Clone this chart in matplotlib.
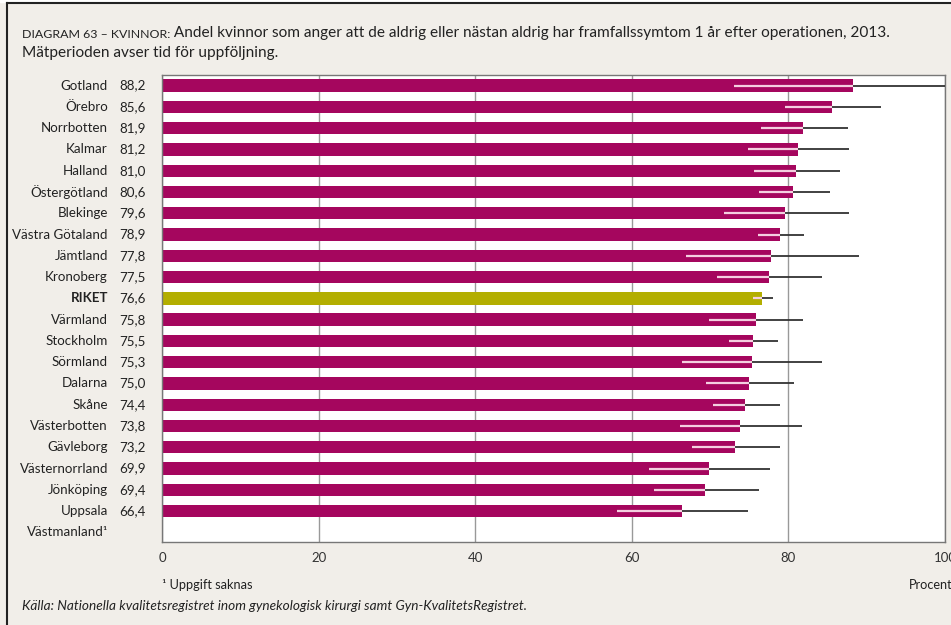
import numpy as np
import matplotlib.pyplot as plt
from matplotlib.patches import Rectangle
from matplotlib.lines import Line2D

regions = ["Gotland", "Örebro", "Norrbotten", "Kalmar", "Halland", "Östergötland",
           "Blekinge", "Västra Götaland", "Jämtland", "Kronoberg", "RIKET",
           "Värmland", "Stockholm", "Sörmland", "Dalarna", "Skåne", "Västerbotten",
           "Gävleborg", "Västernorrland", "Jönköping", "Uppsala", "Västmanland¹"]
values = [88.2, 85.6, 81.9, 81.2, 81.0, 80.6, 79.6, 78.9, 77.8, 77.5, 76.6,
          75.8, 75.5, 75.3, 75.0, 74.4, 73.8, 73.2, 69.9, 69.4, 66.4, None]
ci_low = [73.1, 79.6, 76.5, 74.8, 75.6, 76.2, 71.8, 76.1, 66.9, 70.9, 75.5,
          69.9, 72.4, 66.4, 69.5, 70.4, 66.2, 67.7, 62.2, 62.8, 58.1, None]
ci_high = [100.0, 91.8, 87.6, 87.7, 86.6, 85.3, 87.7, 82.0, 89.0, 84.3, 78.0,
           81.9, 78.7, 84.3, 80.7, 78.9, 81.7, 78.9, 77.6, 76.3, 74.8, None]
xticks = [0, 20, 40, 60, 80, 100]

BG = "#f1eee9"
MAGENTA = "#a5065e"
OLIVE = "#b3ae00"

plt.rcParams['font.family'] = ["Lato", "DejaVu Sans"]

fig = plt.figure(figsize=(9.51, 6.25), dpi=100)
fig.patch.set_facecolor(BG)
ax = fig.add_axes([162 / 951, 1 - 542 / 625, (945 - 162) / 951, (542 - 75) / 625])
ax.set_facecolor("white")

for i, (name, v, lo, hi) in enumerate(zip(regions, values, ci_low, ci_high)):
    bold = name == "RIKET"
    ax.text(-0.069, i, name, transform=ax.get_yaxis_transform(), ha="right", va="center",
            fontsize=9.6, color="#222", fontweight="bold" if bold else "normal")
    if v is None:
        continue
    ax.text(-0.054, i, f"{v:.1f}".replace(".", ","), transform=ax.get_yaxis_transform(),
            ha="left", va="center", fontsize=9.6, color="#222")
    ax.barh(i, v, height=0.58, color=OLIVE if bold else MAGENTA, zorder=2)
    ax.plot([lo, v], [i, i], color="#f4cfe0", lw=1.6, zorder=3, solid_capstyle="butt")
    ax.plot([v, hi], [i, i], color="#333333", lw=1.3, zorder=3, solid_capstyle="butt")

ax.set_xlim(0, 100)
ax.set_ylim(21.45, -0.5)
ax.set_yticks([])
ax.set_xticks(xticks)
ax.set_xticklabels([str(t) for t in xticks], fontsize=9.5, color="#333")
ax.tick_params(axis="x", length=0, pad=7)
ax.grid(axis="x", color="#999999", lw=1.0, zorder=1)
ax.set_axisbelow(True)
for s in ax.spines.values():
    s.set_color("#777777")
    s.set_linewidth(1.0)

# title
t1 = fig.text(22 / 951, 1 - 38 / 625, "DIAGRAM 63 – KVINNOR:", fontsize=8.9, color="#222",
              va="baseline")
ax.annotate(" Andel kvinnor som anger att de aldrig eller nästan aldrig har framfallssymtom 1 år efter operationen, 2013.",
            xy=(1, 0), xycoords=t1, va="bottom", fontsize=11.1, color="#222",
            annotation_clip=False)
fig.text(22 / 951, 1 - 57 / 625, "Mätperioden avser tid för uppföljning.", fontsize=11.1,
         color="#222", va="baseline")

fig.text(162 / 951, 1 - 589 / 625, "¹ Uppgift saknas", fontsize=9.2, color="#222", va="baseline")
fig.text(952 / 951, 1 - 589 / 625, "Procent", fontsize=9.2, color="#222", va="baseline", ha="right")
fig.text(22 / 951, 1 - 610 / 625,
         "Källa: Nationella kvalitetsregistret inom gynekologisk kirurgi samt Gyn-KvalitetsRegistret.",
         fontsize=9.8, style="italic", color="#222", va="baseline")

# outer frame lines
fig.add_artist(Line2D([7 / 951, 7 / 951], [0, 1 - 3 / 625], transform=fig.transFigure,
                      color="#222", lw=1.5))
fig.add_artist(Line2D([7 / 951, 1], [1 - 3 / 625, 1 - 3 / 625], transform=fig.transFigure,
                      color="#222", lw=1.5))
fig.add_artist(Rectangle((0, 1 - 2 / 625), 1, 2 / 625, transform=fig.transFigure,
                         color="white", zorder=0))

fig.savefig("out.png", dpi=100, facecolor=BG)
